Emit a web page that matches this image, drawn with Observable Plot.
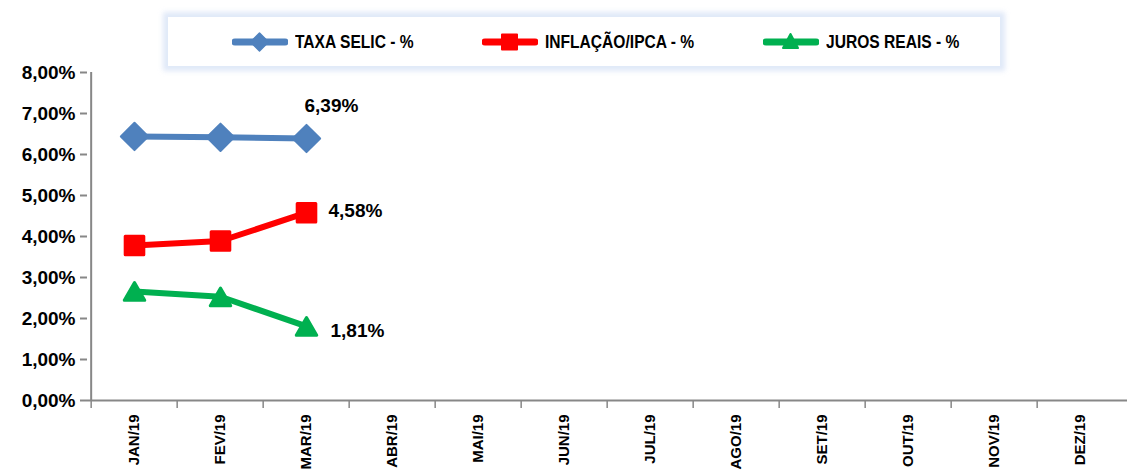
<!DOCTYPE html>
<html>
<head>
<meta charset="utf-8">
<script src="https://cdn.jsdelivr.net/npm/d3@7"></script>
<script src="https://cdn.jsdelivr.net/npm/@observablehq/plot@0.6"></script>
<style>
  html, body { margin: 0; padding: 0; background: #fff; }
  #chart { position: relative; width: 1128px; height: 474px; overflow: hidden; font-family: "Liberation Sans", Arial, sans-serif; }
  #chart svg.plot { position: absolute; left: 0; top: 0; }
  #legend {
    position: absolute; left: 168px; top: 17px; width: 832px; height: 49px;
    background: #fff; box-shadow: 0 0 5px 5px rgba(214, 226, 245, 0.75);
    font-family: "Liberation Sans", Arial, sans-serif;
    font-weight: bold; font-size: 19px; color: #000;
  }
  #legend .item { position: absolute; top: 0; height: 49px; display: flex; align-items: center; }
  #legend .item svg { margin-right: 7px; }
  #legend .item span { display: inline-block; transform: scaleX(0.82); transform-origin: left center; white-space: nowrap; }
</style>
</head>
<body>
<div id="chart">
  <div id="legend"></div>
</div>
<script>
// Months of 2019 on the horizontal axis
const months = ["JAN/19", "FEV/19", "MAR/19", "ABR/19", "MAI/19", "JUN/19",
                "JUL/19", "AGO/19", "SET/19", "OUT/19", "NOV/19", "DEZ/19"];

// Series (% per year), available for the first quarter only
const selic = [6.44, 6.42, 6.39];
const ipca = [3.78, 3.89, 4.58];
const jurosReais = [2.66, 2.53, 1.81];

const seriesNames = ["TAXA SELIC - %", "INFLAÇÃO/IPCA - %", "JUROS REAIS - %"];
const seriesColors = ["#4F81BD", "#FF0000", "#00B050"];
const seriesSymbols = ["diamond2", "square", "triangle"];
const yTicks = [0, 1, 2, 3, 4, 5, 6, 7, 8];

const fmt = v => v.toFixed(2).replace(".", ",") + "%";

const table = [selic, ipca, jurosReais].flatMap((vals, i) =>
  vals.map((v, j) => ({month: months[j], value: v, serie: seriesNames[i]})));
const lastPoints = seriesNames.map(s => table.filter(d => d.serie === s).at(-1));

const W = 1128, H = 474, ML = 87, MR = 1, MT = 72, MB = 74;
const step = (W - ML - MR) / months.length;
const axisGray = "#878787";

const plot = Plot.plot({
  width: W, height: H,
  marginLeft: ML, marginRight: MR, marginTop: MT, marginBottom: MB,
  style: {fontFamily: "'Liberation Sans', Arial, sans-serif", color: "#000", background: "transparent"},
  x: {type: "point", domain: months, padding: 0.5, axis: null, label: null},
  y: {domain: [0, 8], axis: null, label: null},
  color: {domain: seriesNames, range: seriesColors},
  symbol: {domain: seriesNames, range: seriesSymbols},
  marks: [
    // y axis: ticks, labels and line
    Plot.axisY(yTicks, {tickSize: 7, tickPadding: 5, tickFormat: fmt, fontSize: 19, fontWeight: "bold",
      stroke: axisGray, strokeWidth: 2, label: null}),
    Plot.ruleX([months[0]], {dx: -step / 2, y1: 0, y2: 8, stroke: axisGray, strokeWidth: 2}),
    // x axis line and the category separators
    Plot.ruleY([0], {stroke: axisGray, strokeWidth: 2}),
    Plot.axisX(months, {tickSize: 8, tickFormat: () => "", dx: -step / 2, stroke: axisGray,
      strokeWidth: 1.5, label: null}),
    Plot.axisX(months, {tickSize: 0, tickPadding: 14, tickRotate: -90, fontSize: 15, fontWeight: "bold",
      label: null}),
    // series
    Plot.line(table, {x: "month", y: "value", z: "serie", stroke: "serie", strokeWidth: 6,
      strokeLinejoin: "round", strokeLinecap: "round"}),
    Plot.dot(table.filter(d => d.serie === seriesNames[0]), {x: "month", y: "value", symbol: "serie",
      fill: "serie", stroke: "serie", r: 12.3, strokeWidth: 2, strokeLinejoin: "round"}),
    Plot.dot(table.filter(d => d.serie === seriesNames[1]), {x: "month", y: "value", symbol: "serie",
      fill: "serie", stroke: "serie", r: 10.5, strokeWidth: 3, strokeLinejoin: "round"}),
    Plot.dot(table.filter(d => d.serie === seriesNames[2]), {x: "month", y: "value", symbol: "serie",
      fill: "serie", stroke: "serie", r: 7.6, strokeWidth: 3, strokeLinejoin: "round", dy: 3}),
    // value labels on the latest month
    Plot.text([lastPoints[0]], {x: "month", y: "value", text: d => fmt(d.value), textAnchor: "start",
      dx: -2, dy: -33, fontSize: 19, fontWeight: "bold"}),
    Plot.text([lastPoints[1]], {x: "month", y: "value", text: d => fmt(d.value), textAnchor: "start",
      dx: 22, dy: -2, fontSize: 19, fontWeight: "bold"}),
    Plot.text([lastPoints[2]], {x: "month", y: "value", text: d => fmt(d.value), textAnchor: "start",
      dx: 24, dy: 5, fontSize: 19, fontWeight: "bold"})
  ]
});
plot.classList.add("plot");
document.getElementById("chart").appendChild(plot);

// Legend: line-and-marker swatch followed by the series name
const legend = document.getElementById("legend");
const itemLeft = [64, 314, 595];
const swatchShape = [
  c => `<path d="M27.5,-9 L36.5,0 L27.5,9 L18.5,0 Z" fill="${c}" stroke="${c}" stroke-width="1.5" stroke-linejoin="round"/>`,
  c => `<rect x="20" y="-7.5" width="15" height="15" fill="${c}" stroke="${c}" stroke-width="2" stroke-linejoin="round"/>`,
  c => `<path d="M27.5,-8 L35,6 L20,6 Z" fill="${c}" stroke="${c}" stroke-width="2" stroke-linejoin="round"/>`
];
seriesNames.forEach((name, i) => {
  const c = seriesColors[i];
  const item = document.createElement("div");
  item.className = "item";
  item.style.left = itemLeft[i] + "px";
  item.innerHTML =
    `<svg width="56" height="24" viewBox="0 -12 56 24">` +
    `<line x1="3" x2="53" y1="0" y2="0" stroke="${c}" stroke-width="7" stroke-linecap="round"/>` +
    swatchShape[i](c) + `</svg><span>${name}</span>`;
  legend.appendChild(item);
});
</script>
</body>
</html>
